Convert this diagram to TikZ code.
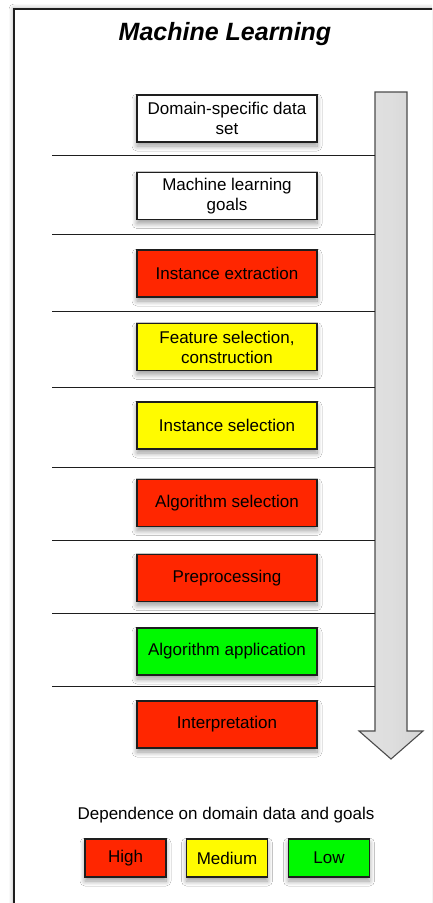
\documentclass[tikz,border=0pt]{standalone}
\usepackage{fontspec}
\setmainfont{Liberation Sans}
\usetikzlibrary{shadows.blur}

\definecolor{hired}{RGB}{255,38,0}
\definecolor{medyellow}{RGB}{255,251,0}
\definecolor{logreen}{RGB}{0,249,0}
\definecolor{edge}{RGB}{30,30,30}

\tikzset{
  softshadow/.style={blur shadow={shadow xshift=0pt, shadow yshift=-4pt,
      shadow blur radius=5pt, shadow blur steps=10, shadow opacity=40}},
  stage/.style={draw=edge, line width=1.2pt, minimum width=180pt,
      minimum height=47pt, inner sep=0pt, align=center,
      font=\fontsize{17}{20}\selectfont, softshadow},
  legendbox/.style={draw=edge, line width=1.2pt, minimum width=81pt,
      minimum height=38pt, inner sep=0pt, font=\fontsize{17}{20}\selectfont,
      softshadow},
  divider/.style={line width=0.9pt, draw=edge},
}

\begin{document}
\begin{tikzpicture}[x=1pt, y=-1pt]
  \useasboundingbox (0,0) rectangle (432,903);
  \fill[white] (0,0) rectangle (432,903);

  % outer frame, running off the right and bottom edges
  \begin{scope}
    \clip (0,0) rectangle (432,903);
    \draw[line width=1.2pt, draw=edge, fill=white,
          blur shadow={shadow xshift=0pt, shadow yshift=0pt,
          shadow blur radius=5pt, shadow opacity=40}]
      (14,9) rectangle (470,940);
  \end{scope}

  % title
  \node[font=\fontsize{25}{30}\selectfont\bfseries\itshape] (title) at (225,34) {Machine Learning};

  % downward flow arrow
  \draw[line width=1.1pt, draw=black!70, left color=black!12, right color=black!17, middle color=black!13]
    (375,92) -- (407,92) -- (407,731) -- (423,731) -- (391,759) -- (359,731) -- (375,731) -- cycle;

  % row dividers
  \foreach \y/\n in {155/a,234/b,311/c,387/d,467/e,540/f,613/g,686/h} {
    \coordinate (L\n) at (52,\y);
    \coordinate (R\n) at (375,\y);
    \draw[divider] (L\n) -- (R\n);
  }

  % stages
  \node[stage, fill=white]      (s1) at (227,118.5) {Domain-specific data\\set};
  \node[stage, fill=white]      (s2) at (227,196)   {Machine learning\\goals};
  \node[stage, fill=hired]      (s3) at (227,273.5) {Instance extraction};
  \node[stage, fill=medyellow]  (s4) at (227,347)   {Feature selection,\\construction};
  \node[stage, fill=medyellow]  (s5) at (227,425.5) {Instance selection};
  \node[stage, fill=hired]      (s6) at (227,503)   {Algorithm selection};
  \node[stage, fill=hired]      (s7) at (227,578)   {Preprocessing};
  \node[stage, fill=logreen]    (s8) at (227,651.5) {Algorithm application};
  \node[stage, fill=hired]      (s9) at (227,724.5) {Interpretation};

  % legend
  \node[font=\fontsize{17}{20}\selectfont] (legtitle) at (226,815) {Dependence on domain data and goals};
  \node[legendbox, fill=hired]     (high) at (125.5,858) {High};
  \node[legendbox, fill=medyellow] (med)  at (227,858)   {Medium};
  \node[legendbox, fill=logreen]   (low)  at (329,858)   {Low};
\end{tikzpicture}
\end{document}
